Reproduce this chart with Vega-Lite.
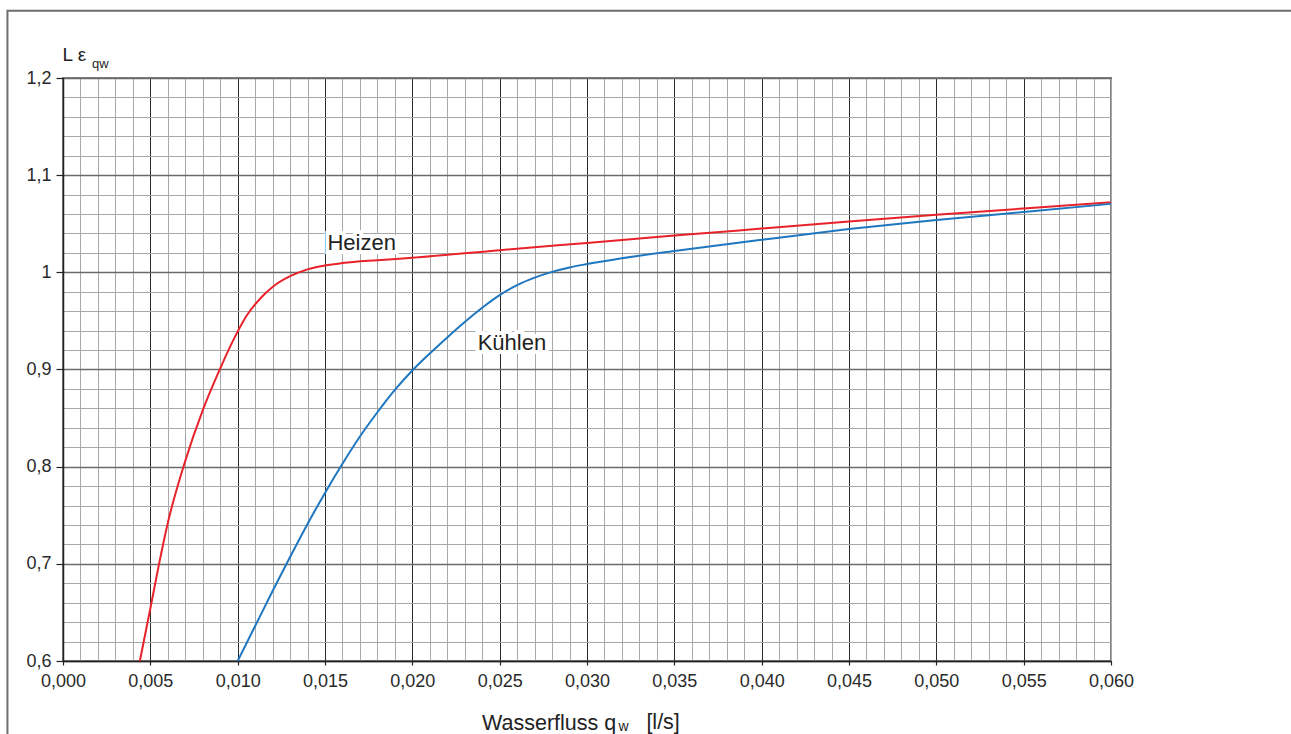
{
  "$schema": "https://vega.github.io/schema/vega-lite/v6.json",
  "width": 1048,
  "height": 583,
  "autosize": {"type": "none"},
  "padding": {"left": 63, "top": 78, "right": 180, "bottom": 73},
  "background": "white",
  "config": {
    "font": "Liberation Sans",
    "view": {"stroke": "#808080", "strokeWidth": 2}
  },
  "datasets": {
    "curves": [
      {"s": "Heizen", "q": 0.0044, "e": 0.6},
      {"s": "Heizen", "q": 0.005, "e": 0.654},
      {"s": "Heizen", "q": 0.0055, "e": 0.7},
      {"s": "Heizen", "q": 0.006, "e": 0.742},
      {"s": "Heizen", "q": 0.007, "e": 0.806},
      {"s": "Heizen", "q": 0.008, "e": 0.858},
      {"s": "Heizen", "q": 0.009, "e": 0.901},
      {"s": "Heizen", "q": 0.0095, "e": 0.921},
      {"s": "Heizen", "q": 0.01, "e": 0.939},
      {"s": "Heizen", "q": 0.0105, "e": 0.955},
      {"s": "Heizen", "q": 0.011, "e": 0.967},
      {"s": "Heizen", "q": 0.0115, "e": 0.977},
      {"s": "Heizen", "q": 0.012, "e": 0.985},
      {"s": "Heizen", "q": 0.013, "e": 0.996},
      {"s": "Heizen", "q": 0.014, "e": 1.003},
      {"s": "Heizen", "q": 0.015, "e": 1.007},
      {"s": "Heizen", "q": 0.016, "e": 1.0095},
      {"s": "Heizen", "q": 0.018, "e": 1.0125},
      {"s": "Heizen", "q": 0.02, "e": 1.015},
      {"s": "Heizen", "q": 0.025, "e": 1.0228},
      {"s": "Heizen", "q": 0.03, "e": 1.0303},
      {"s": "Heizen", "q": 0.035, "e": 1.0378},
      {"s": "Heizen", "q": 0.04, "e": 1.045},
      {"s": "Heizen", "q": 0.045, "e": 1.0522},
      {"s": "Heizen", "q": 0.05, "e": 1.0592},
      {"s": "Heizen", "q": 0.055, "e": 1.0657},
      {"s": "Heizen", "q": 0.06, "e": 1.072},
      {"s": "Kühlen", "q": 0.01, "e": 0.6},
      {"s": "Kühlen", "q": 0.011, "e": 0.636},
      {"s": "Kühlen", "q": 0.012, "e": 0.672},
      {"s": "Kühlen", "q": 0.013, "e": 0.707},
      {"s": "Kühlen", "q": 0.014, "e": 0.741},
      {"s": "Kühlen", "q": 0.015, "e": 0.773},
      {"s": "Kühlen", "q": 0.016, "e": 0.803},
      {"s": "Kühlen", "q": 0.017, "e": 0.831},
      {"s": "Kühlen", "q": 0.018, "e": 0.856},
      {"s": "Kühlen", "q": 0.019, "e": 0.879},
      {"s": "Kühlen", "q": 0.02, "e": 0.899},
      {"s": "Kühlen", "q": 0.021, "e": 0.9165},
      {"s": "Kühlen", "q": 0.022, "e": 0.933},
      {"s": "Kühlen", "q": 0.023, "e": 0.9488},
      {"s": "Kühlen", "q": 0.024, "e": 0.9635},
      {"s": "Kühlen", "q": 0.025, "e": 0.9765},
      {"s": "Kühlen", "q": 0.026, "e": 0.9868},
      {"s": "Kühlen", "q": 0.027, "e": 0.9945},
      {"s": "Kühlen", "q": 0.028, "e": 1.0005},
      {"s": "Kühlen", "q": 0.029, "e": 1.005},
      {"s": "Kühlen", "q": 0.03, "e": 1.0085},
      {"s": "Kühlen", "q": 0.032, "e": 1.0145},
      {"s": "Kühlen", "q": 0.035, "e": 1.022},
      {"s": "Kühlen", "q": 0.04, "e": 1.0335},
      {"s": "Kühlen", "q": 0.045, "e": 1.0445},
      {"s": "Kühlen", "q": 0.05, "e": 1.0538},
      {"s": "Kühlen", "q": 0.055, "e": 1.062},
      {"s": "Kühlen", "q": 0.06, "e": 1.0705}
    ],
    "labels": [
      {"label": "Heizen", "q": 0.0171, "e": 1.023},
      {"label": "Kühlen", "q": 0.0257, "e": 0.92}
    ],
    "anchor": [{}]
  },
  "layer": [
    {
      "data": {"name": "curves"},
      "mark": {"type": "line", "strokeWidth": 2, "interpolate": "monotone"},
      "encoding": {
        "x": {
          "field": "q", "type": "quantitative",
          "scale": {"domain": [0, 0.06], "nice": false},
          "axis": {
            "values": [0,0.001,0.002,0.003,0.004,0.005,0.006,0.007,0.008,0.009,0.01,0.011,0.012,0.013,0.014,0.015,0.016,0.017,0.018,0.019,0.02,0.021,0.022,0.023,0.024,0.025,0.026,0.027,0.028,0.029,0.03,0.031,0.032,0.033,0.034,0.035,0.036,0.037,0.038,0.039,0.04,0.041,0.042,0.043,0.044,0.045,0.046,0.047,0.048,0.049,0.05,0.051,0.052,0.053,0.054,0.055,0.056,0.057,0.058,0.059,0.06],
            "tickCount": 200,
            "grid": true,
            "gridColor": {"condition": {"test": "abs(datum.value*200 - round(datum.value*200)) < 1e-6 && datum.value < 0.0595", "value": "#2b2b2b"}, "value": "#a8a8a8"},
            "gridWidth": 1,
            "ticks": true,
            "tickSize": 4,
            "tickColor": "#222222",
            "tickWidth": 1.2,
            "tickOpacity": {"condition": {"test": "abs(datum.value*200 - round(datum.value*200)) < 1e-6", "value": 1}, "value": 0},
            "domain": true,
            "domainColor": "#222222",
            "domainWidth": 1.5,
            "labelExpr": "abs(datum.value*200 - round(datum.value*200)) < 1e-6 ? replace(format(datum.value, '.3f'), '.', ',') : ''",
            "labelOverlap": false,
            "labelFlush": false,
            "labelBound": false,
            "labelFontSize": 18,
            "labelColor": "#2a2a2a",
            "labelPadding": 7,
            "labelBaseline": "top",
            "title": "Wasserfluss q",
            "titleFontSize": 21.5,
            "titleFontWeight": "normal",
            "titleColor": "#222222",
            "titleAlign": "left",
            "titleBaseline": "alphabetic",
            "titleAnchor": "start",
            "titleX": 418.5,
            "titleY": 68.3
          }
        },
        "y": {
          "field": "e", "type": "quantitative",
          "scale": {"domain": [0.6, 1.2], "nice": false, "zero": false},
          "axis": {
            "values": [0.6,0.62,0.64,0.66,0.68,0.7,0.72,0.74,0.76,0.78,0.8,0.82,0.84,0.86,0.88,0.9,0.92,0.94,0.96,0.98,1,1.02,1.04,1.06,1.08,1.1,1.12,1.14,1.16,1.18,1.2],
            "tickCount": 200,
            "grid": true,
            "gridColor": {"condition": {"test": "abs(datum.value*10 - round(datum.value*10)) < 1e-6", "value": "#6b6b6b"}, "value": "#a8a8a8"},
            "gridWidth": {"condition": {"test": "abs(datum.value*10 - round(datum.value*10)) < 1e-6", "value": 1.5}, "value": 1},
            "ticks": true,
            "tickSize": 7,
            "tickColor": "#222222",
            "tickWidth": 1.2,
            "tickOpacity": {"condition": {"test": "abs(datum.value*10 - round(datum.value*10)) < 1e-6", "value": 1}, "value": 0},
            "domain": true,
            "domainColor": "#222222",
            "domainWidth": 1.5,
            "labelExpr": "abs(datum.value*10 - round(datum.value*10)) < 1e-6 ? replace(format(datum.value, '.1~f'), '.', ',') : ''",
            "labelOverlap": false,
            "labelFlush": false,
            "labelBound": false,
            "labelFontSize": 18,
            "labelColor": "#2a2a2a",
            "labelPadding": 5,
            "title": "L ε",
            "titleFontSize": 19,
            "titleFontWeight": "normal",
            "titleColor": "#222222",
            "titleAngle": 0,
            "titleAlign": "left",
            "titleBaseline": "alphabetic",
            "titleAnchor": "start",
            "titleX": -1,
            "titleY": -18
          }
        },
        "color": {
          "field": "s", "type": "nominal",
          "scale": {"domain": ["Heizen", "Kühlen"], "range": ["#e8222b", "#1f77c0"]},
          "legend": null
        }
      }
    },
    {
      "data": {"name": "anchor"},
      "mark": {"type": "rect", "fill": "transparent", "stroke": "#6e6e6e", "strokeWidth": 2, "clip": false},
      "encoding": {
        "x": {"datum": -0.00318, "type": "quantitative"},
        "x2": {"datum": 0.072},
        "y": {"datum": 1.2693, "type": "quantitative"},
        "y2": {"datum": 0.5}
      }
    },
    {
      "data": {"name": "labels"},
      "mark": {"type": "text", "fontSize": 22, "align": "center", "baseline": "alphabetic", "stroke": "white", "strokeWidth": 8, "strokeJoin": "miter", "fill": "white"},
      "encoding": {
        "x": {"field": "q", "type": "quantitative"},
        "y": {"field": "e", "type": "quantitative"},
        "text": {"field": "label"}
      }
    },
    {
      "data": {"name": "labels"},
      "mark": {"type": "text", "fontSize": 22, "align": "center", "baseline": "alphabetic", "color": "#222222"},
      "encoding": {
        "x": {"field": "q", "type": "quantitative"},
        "y": {"field": "e", "type": "quantitative"},
        "text": {"field": "label"}
      }
    },
    {
      "data": {"name": "anchor"},
      "mark": {"type": "text", "fontSize": 13, "align": "left", "baseline": "alphabetic", "dx": 29, "dy": -10, "color": "#222222", "clip": false},
      "encoding": {
        "x": {"datum": 0, "type": "quantitative"},
        "y": {"datum": 1.2, "type": "quantitative"},
        "text": {"value": "qw"}
      }
    },
    {
      "data": {"name": "anchor"},
      "mark": {"type": "text", "fontSize": 14, "align": "left", "baseline": "alphabetic", "dy": 70, "color": "#222222", "clip": false},
      "encoding": {
        "x": {"datum": 0.0318, "type": "quantitative"},
        "y": {"datum": 0.6, "type": "quantitative"},
        "text": {"value": "w"}
      }
    },
    {
      "data": {"name": "anchor"},
      "mark": {"type": "text", "fontSize": 21.5, "align": "left", "baseline": "alphabetic", "dy": 68.3, "color": "#222222", "clip": false},
      "encoding": {
        "x": {"datum": 0.0334, "type": "quantitative"},
        "y": {"datum": 0.6, "type": "quantitative"},
        "text": {"value": "[l/s]"}
      }
    }
  ]
}
